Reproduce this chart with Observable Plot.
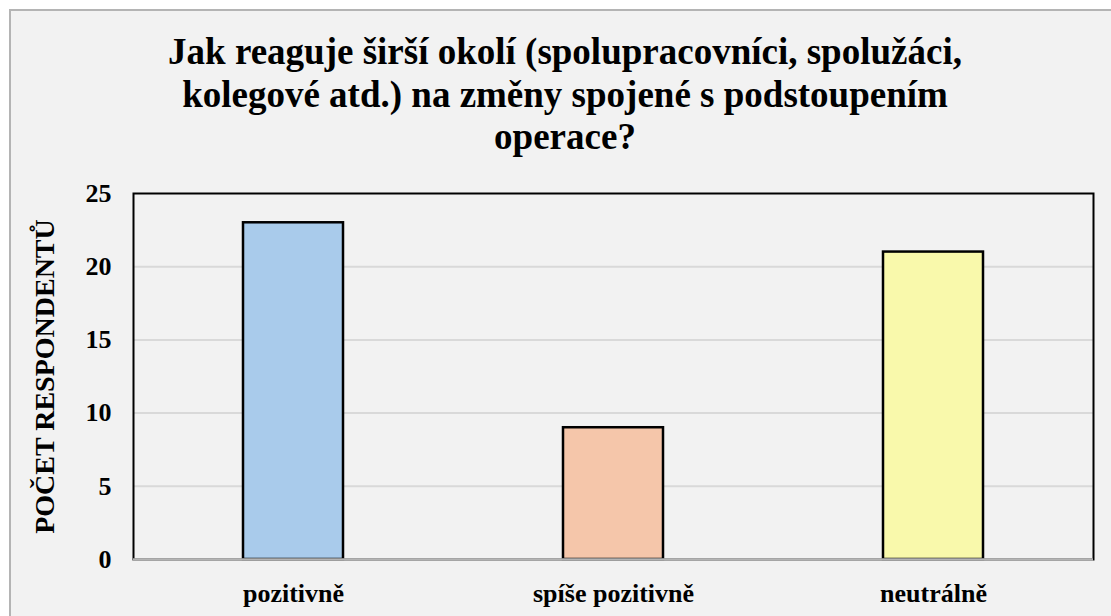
<!DOCTYPE html>
<html>
<head>
<meta charset="utf-8">
<script src="https://cdn.jsdelivr.net/npm/d3@7"></script>
<script src="https://cdn.jsdelivr.net/npm/@observablehq/plot@0.6"></script>
<style>
  body { margin: 0; }
  .serifb { font-family: 'Liberation Serif', 'Times New Roman', serif; font-weight: bold; }
</style>
</head>
<body>
<div id="panel" style="position:absolute;left:9px;top:9px;width:1120px;height:640px;background:#f2f2f2;border:2px solid #b4b4b4;box-sizing:border-box;"></div>
<div id="title" class="serifb" style="position:absolute;left:9px;top:31px;width:1112px;text-align:center;font-size:37px;line-height:42.5px;color:#000;"></div>
<div id="chart" style="position:absolute;left:0;top:170px;"></div>
<script>
const titleLines = [
  "Jak reaguje širší okolí (spolupracovníci, spolužáci,",
  "kolegové atd.) na změny spojené s podstoupením",
  "operace?"
];
const categories = ["pozitivně", "spíše pozitivně", "neutrálně"];
const values = [23, 9, 21];
const colors = ["#a9cbeb", "#f5c6aa", "#f9f9ab"];
const yTicks = [0, 5, 10, 15, 20, 25];
const gridTicks = [5, 10, 15, 20];
const yLabel = "POČET RESPONDENTŮ";

const data = categories.map((c, i) => ({category: c, value: values[i]}));

const titleEl = document.getElementById("title");
titleLines.forEach((t, i) => {
  if (i) titleEl.appendChild(document.createElement("br"));
  titleEl.appendChild(document.createTextNode(t));
});

const serif = "'Liberation Serif', 'Times New Roman', serif";

const chart = Plot.plot({
  width: 1111,
  height: 446,
  marginLeft: 133,
  marginRight: 18,
  marginTop: 23,
  marginBottom: 57,
  style: {
    background: "transparent",
    fontFamily: serif,
    fontWeight: "bold",
    fontSize: "26px",
    color: "black",
    overflow: "visible"
  },
  x: {domain: categories, paddingInner: 0.6875, paddingOuter: 0.34375, axis: null},
  y: {domain: [0, 25], axis: null},
  color: {domain: categories, range: colors},
  marks: [
    Plot.gridY(gridTicks, {stroke: "#d9d9d9", strokeOpacity: 1, strokeWidth: 2}),
    Plot.frame({stroke: "black", strokeWidth: 2}),
    Plot.barY(data, {x: "category", y: "value", fill: "category", stroke: "black", strokeWidth: 2.5}),
    Plot.ruleY([0], {stroke: "#b4b4b4", strokeWidth: 2.5}),
    Plot.axisY(yTicks, {tickSize: 0, tickPadding: 22, fontSize: 26, fontWeight: "bold", label: null}),
    Plot.axisX({tickSize: 0, tickPadding: 24, fontSize: 26, fontWeight: "bold", label: null}),
    Plot.text([yLabel], {text: d => d, frameAnchor: "left", textAnchor: "middle", lineAnchor: "middle", rotate: -90, dx: -88, fontSize: 28, fontWeight: "bold", fill: "black"})
  ]
});
document.getElementById("chart").appendChild(chart);
</script>
</body>
</html>
